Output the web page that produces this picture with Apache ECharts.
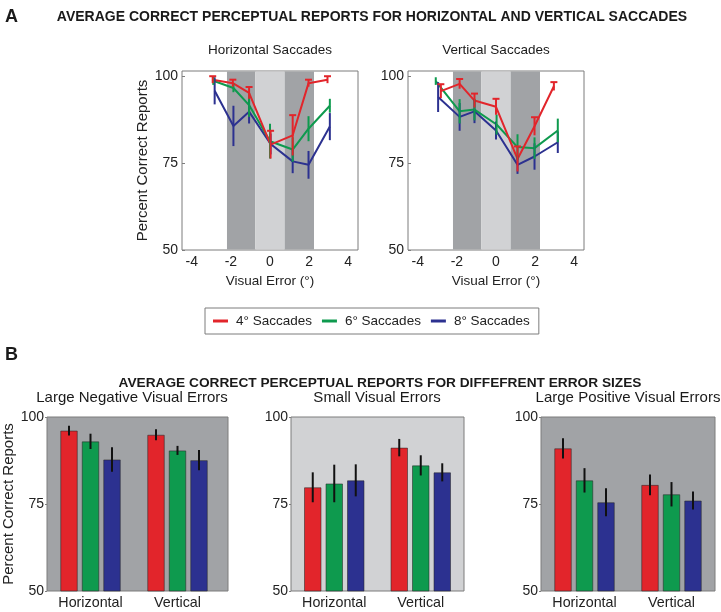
<!DOCTYPE html>
<html><head><meta charset="utf-8">
<script src="https://cdn.jsdelivr.net/npm/echarts@6/dist/echarts.min.js"></script>
<style>html,body{margin:0;padding:0;background:#fff}#c{width:721px;height:612px}</style>
</head><body><div id="c"></div>
<script>
// ---------- DATA ----------
const seriesNames = ['4° Saccades', '6° Saccades', '8° Saccades'];
const seriesColors = ['#e2252b', '#0e9a4e', '#2c3190'];

// Panel A: horizontal saccades (x = visual error, y = percent correct, e = error bar half-length)
const horizX_4 = [-2.93, -1.9, -1.07, 0.03, 1.16, 1.97, 2.94];
const horizY_4 = [99.0, 98.0, 95.2, 80.3, 83.0, 98.0, 99.0];
const horizE_4 = [1.0, 1.0, 1.7, 4.0, 5.8, 1.0, 1.0];
const horizX_6 = [-2.9, -1.87, -1.07, 0.0, 1.16, 1.97, 3.06];
const horizY_6 = [98.7, 96.6, 91.7, 81.3, 78.9, 84.9, 91.5];
const horizE_6 = [1.2, 1.2, 3.4, 5.0, 3.5, 3.6, 2.0];
const horizX_8 = [-2.83, -1.87, -1.07, 0.03, 1.16, 1.97, 3.06];
const horizY_8 = [95.8, 85.7, 89.8, 80.5, 75.5, 74.5, 85.5];
const horizE_8 = [3.9, 5.8, 3.4, 3.0, 3.4, 4.0, 3.9];

// Panel A: vertical saccades
const vertX_4 = [-2.82, -1.86, -1.1, 0.0, 1.1, 1.97, 2.96];
const vertY_4 = [95.7, 97.8, 93.0, 91.2, 76.2, 85.6, 97.1];
const vertE_4 = [2.0, 1.4, 2.0, 2.3, 3.6, 2.6, 1.2];
const vertX_6 = [-3.08, -1.86, -1.1, 0.03, 1.1, 1.97, 3.16];
const vertY_6 = [98.6, 89.9, 90.4, 86.1, 79.6, 79.3, 84.4];
const vertE_6 = [1.1, 3.5, 3.1, 2.9, 3.7, 3.1, 3.4];
const vertX_8 = [-2.96, -1.86, -1.1, 0.0, 1.1, 1.97, 3.16];
const vertY_8 = [94.0, 88.3, 89.9, 84.4, 74.5, 76.9, 81.0];
const vertE_8 = [4.3, 4.0, 3.4, 2.6, 2.6, 3.8, 3.1];

// Shaded error-size zones (visual error ranges)
const zoneStart = [-2.2, -0.75, 0.75];
const zoneEnd = [-0.75, 0.75, 2.25];
const zoneKind = ['large', 'small', 'large'];

// Axis ticks
const topXTicks = [-4, -2, 0, 2, 4];
const yTicks = [50, 75, 100];

// Panel B
const barCategories = ['Horizontal', 'Vertical'];
const panelTitles = ['Large Negative Visual Errors', 'Small Visual Errors', 'Large Positive Visual Errors'];
const negVals_4 = [96.1, 94.9], negErr_4 = [1.4, 1.6];
const negVals_6 = [93.0, 90.4], negErr_6 = [2.2, 1.3];
const negVals_8 = [87.8, 87.6], negErr_8 = [3.5, 2.9];
const smallVals_4 = [79.8, 91.2], smallErr_4 = [4.3, 2.5];
const smallVals_6 = [80.9, 86.1], smallErr_6 = [5.4, 2.9];
const smallVals_8 = [81.8, 84.1], smallErr_8 = [4.6, 2.6];
const posVals_4 = [91.0, 80.5], posErr_4 = [2.9, 3.0];
const posVals_6 = [81.8, 77.8], posErr_6 = [3.5, 3.5];
const posVals_8 = [75.5, 76.0], posErr_8 = [4.0, 2.6];

// ---------- STYLE ----------
const FONT = '"Liberation Sans", Arial, Helvetica, sans-serif';
const DARK = '#a1a3a6', LIGHT = '#d1d2d4';
const FRAME = '#7d7d7d';
const BAR_W = 17.5, BAR_GAP_PX = 4;

const chart = echarts.init(document.getElementById('c'), null, {renderer: 'canvas'});

const grids = [
  {left: 182, top: 71, width: 176, height: 179, show: true, borderColor: FRAME, borderWidth: 1, backgroundColor: '#fff'},
  {left: 408, top: 71, width: 176, height: 179, show: true, borderColor: FRAME, borderWidth: 1, backgroundColor: '#fff'},
  {left: 47, top: 417, width: 181, height: 174, show: true, borderColor: FRAME, borderWidth: 1, backgroundColor: DARK},
  {left: 47, top: 417, width: 174, height: 174, show: false},
  {left: 291, top: 417, width: 173, height: 174, show: true, borderColor: FRAME, borderWidth: 1, backgroundColor: LIGHT},
  {left: 541, top: 417, width: 174, height: 174, show: true, borderColor: FRAME, borderWidth: 1, backgroundColor: DARK}
];

const tickLabel = {fontFamily: FONT, fontSize: 14, color: '#222'};

function topX(gi) {
  return {type: 'value', gridIndex: gi, min: -4.5, max: 4.5,
    axisLine: {show: false, onZero: false}, axisTick: {show: false}, splitLine: {show: false},
    axisLabel: Object.assign({customValues: topXTicks, margin: 5}, tickLabel),
    name: 'Visual Error (°)', nameLocation: 'middle', nameGap: 24,
    nameTextStyle: {fontFamily: FONT, fontSize: 13.5, color: '#222'}};
}
function topY(gi, withName) {
  return {type: 'value', gridIndex: gi, min: 50, max: 101.5,
    axisLine: {show: false, onZero: false}, splitLine: {show: false},
    axisTick: {show: true, inside: true, length: 3, customValues: yTicks, lineStyle: {color: FRAME}},
    axisLabel: Object.assign({customValues: yTicks, margin: 4}, tickLabel),
    name: withName ? 'Percent Correct Reports' : '', nameLocation: 'middle', nameGap: 32,
    nameTextStyle: {fontFamily: FONT, fontSize: 15, color: '#222'}};
}
function barX(gi, show) {
  return {type: 'category', gridIndex: gi, data: barCategories, show: show,
    axisLine: {show: false, onZero: false}, axisTick: {show: false},
    axisLabel: {interval: 0, hideOverlap: false, fontFamily: FONT, fontSize: 14.3, color: '#222', margin: 5}};
}
function barY(gi, show, withName) {
  return {type: 'value', gridIndex: gi, min: 50, max: 100, interval: 25, show: show,
    axisLine: {show: false, onZero: false}, splitLine: {show: false},
    axisTick: {show: true, length: 2, lineStyle: {color: FRAME}},
    axisLabel: Object.assign({margin: 3}, tickLabel),
    name: withName ? 'Percent Correct Reports' : '', nameLocation: 'middle', nameGap: 30,
    nameTextStyle: {fontFamily: FONT, fontSize: 15, color: '#222'}};
}

const xAxes = [topX(0), topX(1), {type: 'value', gridIndex: 2, show: false, min: 0, max: 1}, barX(3, true), barX(4, true), barX(5, true)];
const yAxes = [topY(0, true), topY(1, false), {type: 'value', gridIndex: 2, show: false, min: 0, max: 1}, barY(3, true, true), barY(4, true, false), barY(5, true, false)];

const series = [];

// shading zones
function zoneSeries(ai) {
  return {type: 'custom', xAxisIndex: ai, yAxisIndex: ai, z: 1, silent: true,
    data: zoneStart.map((s, i) => [s, zoneEnd[i], zoneKind[i] === 'large' ? 1 : 0]),
    renderItem: function (params, api) {
      const cs = params.coordSys;
      const p0 = api.coord([api.value(0), 75]);
      const p1 = api.coord([api.value(1), 75]);
      return {type: 'rect', shape: {x: p0[0], y: cs.y + 0.5, width: p1[0] - p0[0], height: cs.height - 1},
        style: {fill: api.value(2) ? DARK : LIGHT}};
    }};
}
series.push(zoneSeries(0), zoneSeries(1));

function errSeries(ai, xs, ys, es, color, caps, name) {
  return {type: 'custom', name: name + ' err', xAxisIndex: ai, yAxisIndex: ai, z: 4, silent: true,
    data: xs.map((x, i) => [x, ys[i] - es[i], ys[i] + es[i]]),
    renderItem: function (params, api) {
      const a = api.coord([api.value(0), api.value(1)]);
      const b = api.coord([api.value(0), api.value(2)]);
      const ch = [{type: 'line', shape: {x1: a[0], y1: a[1], x2: b[0], y2: b[1]}, style: {stroke: color, lineWidth: 2}}];
      if (caps) ch.push({type: 'line', shape: {x1: b[0] - 3.5, y1: b[1], x2: b[0] + 3.5, y2: b[1]}, style: {stroke: color, lineWidth: 2}});
      return {type: 'group', children: ch};
    }};
}
function lineSeries(ai, xs, ys, idx) {
  return {type: 'line', name: seriesNames[idx], xAxisIndex: ai, yAxisIndex: ai, z: 3,
    data: xs.map((x, i) => [x, ys[i]]), showSymbol: false, symbol: 'none',
    lineStyle: {color: seriesColors[idx], width: 2}, itemStyle: {color: seriesColors[idx]}, animation: false};
}
const topSets = [
  [0, [[horizX_8, horizY_8, horizE_8, 2], [horizX_6, horizY_6, horizE_6, 1], [horizX_4, horizY_4, horizE_4, 0]]],
  [1, [[vertX_8, vertY_8, vertE_8, 2], [vertX_6, vertY_6, vertE_6, 1], [vertX_4, vertY_4, vertE_4, 0]]]
];
topSets.forEach(([ai, sets]) => {
  sets.forEach(([xs, ys, es, idx]) => {
    series.push(lineSeries(ai, xs, ys, idx));
    series.push(errSeries(ai, xs, ys, es, seriesColors[idx], idx === 0, seriesNames[idx]));
  });
});

// bars
const barPanels = [
  [3, [negVals_4, negVals_6, negVals_8], [negErr_4, negErr_6, negErr_8]],
  [4, [smallVals_4, smallVals_6, smallVals_8], [smallErr_4, smallErr_6, smallErr_8]],
  [5, [posVals_4, posVals_6, posVals_8], [posErr_4, posErr_6, posErr_8]]
];
barPanels.forEach(([ai, vals, errs]) => {
  vals.forEach((v, k) => {
    series.push({type: 'bar', name: 'bar' + ai + '-' + k, xAxisIndex: ai, yAxisIndex: ai, z: 3,
      data: v, barWidth: BAR_W, barGap: (BAR_GAP_PX / BAR_W * 100) + '%',
      itemStyle: {color: seriesColors[k], borderColor: 'rgba(40,40,40,0.55)', borderWidth: 1}, animation: false});
  });
  vals.forEach((v, k) => {
    const off = (k - 1) * (BAR_W + BAR_GAP_PX);
    series.push({type: 'custom', xAxisIndex: ai, yAxisIndex: ai, z: 5, silent: true,
      data: v.map((y, i) => [i, y - errs[k][i], y + errs[k][i]]),
      renderItem: function (params, api) {
        const a = api.coord([api.value(0), api.value(1)]);
        const b = api.coord([api.value(0), api.value(2)]);
        return {type: 'line', shape: {x1: a[0] + off, y1: a[1], x2: b[0] + off, y2: b[1]}, style: {stroke: '#111', lineWidth: 2}};
      }});
  });
});

function txt(x, y, s, size, bold, align) {
  return {type: 'text', x: x, y: y, silent: true,
    style: {text: s, fontFamily: FONT, fontSize: size, fontWeight: bold ? 'bold' : 'normal', fill: '#1a1a1a',
      textAlign: align || 'center', textVerticalAlign: 'middle'}};
}

const graphics = [
  txt(5, 17, 'A', 18, true, 'left'),
  txt(372, 17, 'AVERAGE CORRECT PERCEPTUAL REPORTS FOR HORIZONTAL AND VERTICAL SACCADES', 14, true),
  txt(270, 50, 'Horizontal Saccades', 13.5, false),
  txt(496, 50, 'Vertical Saccades', 13.5, false),
  txt(5, 355, 'B', 18, true, 'left'),
  txt(380, 383, 'AVERAGE CORRECT PERCEPTUAL REPORTS FOR DIFFEFRENT ERROR SIZES', 13.7, true),
  txt(132, 398, panelTitles[0], 15, false),
  txt(377, 398, panelTitles[1], 15, false),
  txt(628, 398, panelTitles[2], 15, false)
];

chart.setOption({
  animation: false,
  grid: grids,
  xAxis: xAxes,
  yAxis: yAxes,
  series: series,
  legend: {data: seriesNames, left: 205, top: 308, padding: [6, 9, 6, 8], itemGap: 10, itemWidth: 15, itemHeight: 3,
    icon: 'rect', borderColor: FRAME, borderWidth: 1, selectedMode: false,
    textStyle: {fontFamily: FONT, fontSize: 13.5, color: '#222', padding: [0, 0, 0, 3]}},
  graphic: graphics
});
</script></body></html>
